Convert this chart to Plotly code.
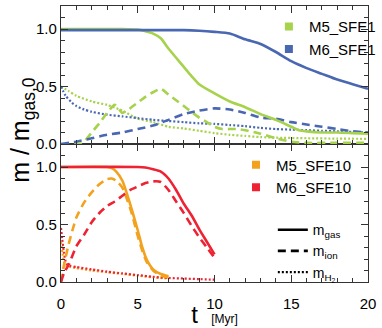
import plotly.graph_objects as go

# ---------------- data (t in Myr, m / m_gas,0) ----------------
# Top panel: M5_SFE1 (green), M6_SFE1 (blue)
t_m5s1_gas = [0, 4, 5, 5.5, 6, 6.5, 7, 7.5, 8, 8.5, 9, 10, 11, 12, 13, 14, 15, 15.5, 16, 17, 18, 19, 20]
m_m5s1_gas = [1.0, 1.0, 0.995, 0.98, 0.96, 0.92, 0.83, 0.75, 0.67, 0.59, 0.52, 0.44, 0.37, 0.32, 0.26, 0.21, 0.15, 0.12, 0.11, 0.10, 0.10, 0.095, 0.09]
t_m5s1_ion = [0, 1.2, 1.5, 2, 2.5, 3, 3.5, 3.8, 4.0, 4.5, 5, 5.5, 6, 6.5, 7, 7.5, 8, 8.5, 9, 9.5, 10, 10.5, 11, 11.5, 12, 13, 14, 15, 16, 18, 20]
m_m5s1_ion = [0, 0, 0.02, 0.1, 0.18, 0.27, 0.34, 0.30, 0.27, 0.31, 0.36, 0.41, 0.45, 0.48, 0.43, 0.38, 0.33, 0.28, 0.23, 0.19, 0.15, 0.13, 0.13, 0.13, 0.12, 0.09, 0.05, 0.02, 0.01, 0.01, 0.01]
t_m5s1_h2 = [0, 0.5, 1, 2, 3, 4, 5, 6, 7, 8, 9, 10, 11, 12, 13, 14, 16, 18, 20]
m_m5s1_h2 = [0.5, 0.46, 0.42, 0.37, 0.34, 0.29, 0.22, 0.19, 0.15, 0.135, 0.115, 0.095, 0.08, 0.07, 0.06, 0.055, 0.05, 0.047, 0.045]

t_m6s1_gas = [0, 8, 9, 10, 11, 12, 13, 14, 15, 16, 17, 18, 19, 20]
m_m6s1_gas = [0.99, 0.99, 0.985, 0.975, 0.96, 0.91, 0.87, 0.80, 0.72, 0.66, 0.61, 0.56, 0.52, 0.48]
t_m6s1_ion = [0, 1, 2, 3, 4, 5, 6, 7, 8, 9, 10, 11, 12, 13, 14, 15, 16, 17, 18, 19, 20]
m_m6s1_ion = [0, 0.02, 0.05, 0.08, 0.10, 0.13, 0.16, 0.21, 0.26, 0.29, 0.31, 0.30, 0.27, 0.23, 0.22, 0.19, 0.17, 0.15, 0.13, 0.11, 0.10]
t_m6s1_h2 = [0, 0.3, 0.7, 1, 1.5, 2, 3, 4, 5, 6, 7, 8, 9, 10, 11, 12, 13, 14, 15, 16, 17, 18, 19, 20]
m_m6s1_h2 = [0.5, 0.42, 0.36, 0.33, 0.30, 0.28, 0.255, 0.24, 0.225, 0.21, 0.20, 0.19, 0.18, 0.175, 0.165, 0.155, 0.14, 0.13, 0.125, 0.12, 0.115, 0.11, 0.105, 0.10]

# Bottom panel: M5_SFE10 (orange), M6_SFE10 (red)
t_m5s10_gas = [0, 3, 3.3, 3.6, 4, 4.5, 5, 5.3, 5.6, 6, 6.5, 7]
m_m5s10_gas = [1.0, 1.0, 0.99, 0.96, 0.88, 0.68, 0.45, 0.30, 0.19, 0.11, 0.07, 0.05]
t_m5s10_ion = [0, 0.2, 0.5, 1, 1.5, 2, 2.5, 3, 3.3, 3.6, 4, 4.3, 4.6, 5, 5.3, 5.6, 6, 6.5, 7]
m_m5s10_ion = [0, 0.15, 0.33, 0.56, 0.69, 0.78, 0.85, 0.895, 0.90, 0.88, 0.82, 0.72, 0.60, 0.40, 0.27, 0.17, 0.10, 0.055, 0.04]
t_m5s10_h2 = [0, 0.1, 0.2, 0.35, 0.6, 1, 2, 3, 4, 5, 6, 7]
m_m5s10_h2 = [0.35, 0.25, 0.17, 0.14, 0.13, 0.12, 0.10, 0.085, 0.07, 0.055, 0.04, 0.03]

t_m6s10_gas = [0, 5, 5.5, 6, 6.5, 7, 7.5, 8, 8.5, 9, 9.5, 10]
m_m6s10_gas = [1.0, 1.0, 0.995, 0.98, 0.96, 0.90, 0.80, 0.68, 0.58, 0.46, 0.35, 0.24]
t_m6s10_ion = [0, 0.2, 0.5, 1, 1.5, 2, 2.5, 3, 3.5, 4, 4.5, 5, 5.5, 6, 6.5, 7, 7.5, 8, 8.5, 9, 9.5, 10]
m_m6s10_ion = [0, 0.08, 0.15, 0.31, 0.41, 0.52, 0.60, 0.66, 0.70, 0.75, 0.80, 0.83, 0.86, 0.875, 0.87, 0.80, 0.70, 0.60, 0.49, 0.39, 0.30, 0.21]
t_m6s10_h2 = [0, 0.1, 0.2, 0.35, 0.6, 1, 2, 3, 4, 5, 6, 7, 8, 9, 10]
m_m6s10_h2 = [0.47, 0.35, 0.25, 0.16, 0.14, 0.13, 0.11, 0.09, 0.075, 0.06, 0.045, 0.035, 0.03, 0.025, 0.02]

run_names = ["M5_SFE1", "M6_SFE1", "M5_SFE10", "M6_SFE10"]
style_names = ["m<sub>gas</sub>", "m<sub>ion</sub>", "m<sub>H<sub>2</sub></sub>"]
x_ticks = [0, 5, 10, 15, 20]
y_ticks = [0.0, 0.5, 1.0]
y_ticktext = ["0.0", "0.5", "1.0"]

# ---------------- styles ----------------
GREEN = "#a6d24c"
BLUE = "#4a68b2"
ORANGE = "#f2a21e"
RED = "#ee2232"
FONT = "Liberation Sans, Arial, Helvetica, sans-serif"
DASH = {"gas": "solid", "ion": "8px,5px", "h2": "2px,2px"}
WIDTH = {"gas": 2.6, "ion": 2.6, "h2": 2.2}

fig = go.Figure()

def add(t, m, color, kind, top):
    fig.add_trace(go.Scatter(
        x=t, y=m, mode="lines", showlegend=False, hoverinfo="skip",
        line=dict(color=color, width=WIDTH[kind], dash=DASH[kind], shape="spline", smoothing=0.6),
        xaxis="x2" if top else "x", yaxis="y2" if top else "y",
    ))

# top panel
add(t_m5s1_h2, m_m5s1_h2, GREEN, "h2", True)
add(t_m6s1_h2, m_m6s1_h2, BLUE, "h2", True)
add(t_m5s1_ion, m_m5s1_ion, GREEN, "ion", True)
add(t_m6s1_ion, m_m6s1_ion, BLUE, "ion", True)
add(t_m5s1_gas, m_m5s1_gas, GREEN, "gas", True)
add(t_m6s1_gas, m_m6s1_gas, BLUE, "gas", True)
# bottom panel
add(t_m5s10_h2, m_m5s10_h2, ORANGE, "h2", False)
add(t_m6s10_h2, m_m6s10_h2, RED, "h2", False)
add(t_m5s10_ion, m_m5s10_ion, ORANGE, "ion", False)
add(t_m6s10_ion, m_m6s10_ion, RED, "ion", False)
add(t_m5s10_gas, m_m5s10_gas, ORANGE, "gas", False)
add(t_m6s10_gas, m_m6s10_gas, RED, "gas", False)

# legend entries
for name, color, lg in zip(run_names, [GREEN, BLUE, ORANGE, RED],
                           ["legend", "legend", "legend2", "legend2"]):
    fig.add_trace(go.Scatter(x=[None], y=[None], mode="markers", name=name, legend=lg,
                             marker=dict(symbol="square", size=8, color=color)))
for name, kind in zip(style_names, ["gas", "ion", "h2"]):
    fig.add_trace(go.Scatter(x=[None], y=[None], mode="lines", name=name, legend="legend3",
                             line=dict(color="black", width=WIDTH[kind], dash=DASH[kind])))

axis_common = dict(
    showline=True, linecolor="#333333", linewidth=1.2, mirror="allticks",
    ticks="inside", ticklen=7, tickwidth=1, tickcolor="#333333",
    showgrid=False, zeroline=False, automargin=False,
    tickfont=dict(family=FONT, size=15, color="black"),
)
xaxis_main = dict(axis_common, automargin=True)

fig.update_layout(
    width=382, height=328,
    margin=dict(l=61, r=14, t=6, b=46, autoexpand=False),
    paper_bgcolor="white", plot_bgcolor="white",
    font=dict(family=FONT, color="black"),
    xaxis=dict(**xaxis_main, range=[0, 20], tickvals=x_ticks, ticklabelstandoff=8,
               minor=dict(ticks="inside", dtick=1, ticklen=4, tickcolor="#333333"),
               domain=[0, 1], anchor="y",
               title=dict(text="t&nbsp;&nbsp;<span style='font-size:12px'>[Myr]</span>",
                          font=dict(family=FONT, size=24), standoff=5)),
    xaxis2=dict(**axis_common, range=[0, 20], tickvals=x_ticks, showticklabels=False,
                minor=dict(ticks="inside", dtick=1, ticklen=4, tickcolor="#333333"),
                matches="x", anchor="y2"),
    yaxis=dict(**axis_common, range=[0, 1.2], tickvals=y_ticks, ticktext=y_ticktext,
               minor=dict(ticks="inside", dtick=0.1, ticklen=4, tickcolor="#333333"),
               domain=[0, 0.5], anchor="x"),
    yaxis2=dict(**axis_common, range=[0, 1.2], tickvals=y_ticks, ticktext=y_ticktext,
                minor=dict(ticks="inside", dtick=0.1, ticklen=4, tickcolor="#333333"),
                domain=[0.5, 1.0], anchor="x2"),
    legend=dict(x=1.042, y=0.985, xanchor="right", yanchor="top", bgcolor="rgba(0,0,0,0)",
                font=dict(family=FONT, size=15), itemwidth=30, tracegroupgap=0),
    legend2=dict(x=0.57, y=0.484, xanchor="left", yanchor="top", bgcolor="rgba(0,0,0,0)",
                 font=dict(family=FONT, size=15), itemwidth=30, tracegroupgap=0),
    legend3=dict(x=0.69, y=0.246, xanchor="left", yanchor="top", bgcolor="rgba(0,0,0,0)",
                 font=dict(family=FONT, size=14), itemwidth=30, tracegroupgap=0),
    annotations=[dict(text="m / m<sub>gas,0</sub>", textangle=-90, xref="paper", yref="paper",
                      x=-0.125, y=0.55, xanchor="center", yanchor="middle", showarrow=False,
                      font=dict(family=FONT, size=25, color="black"))],
)

fig.write_html("out.html", config={"displayModeBar": False},
               post_script="document.body.style.margin='0';")
